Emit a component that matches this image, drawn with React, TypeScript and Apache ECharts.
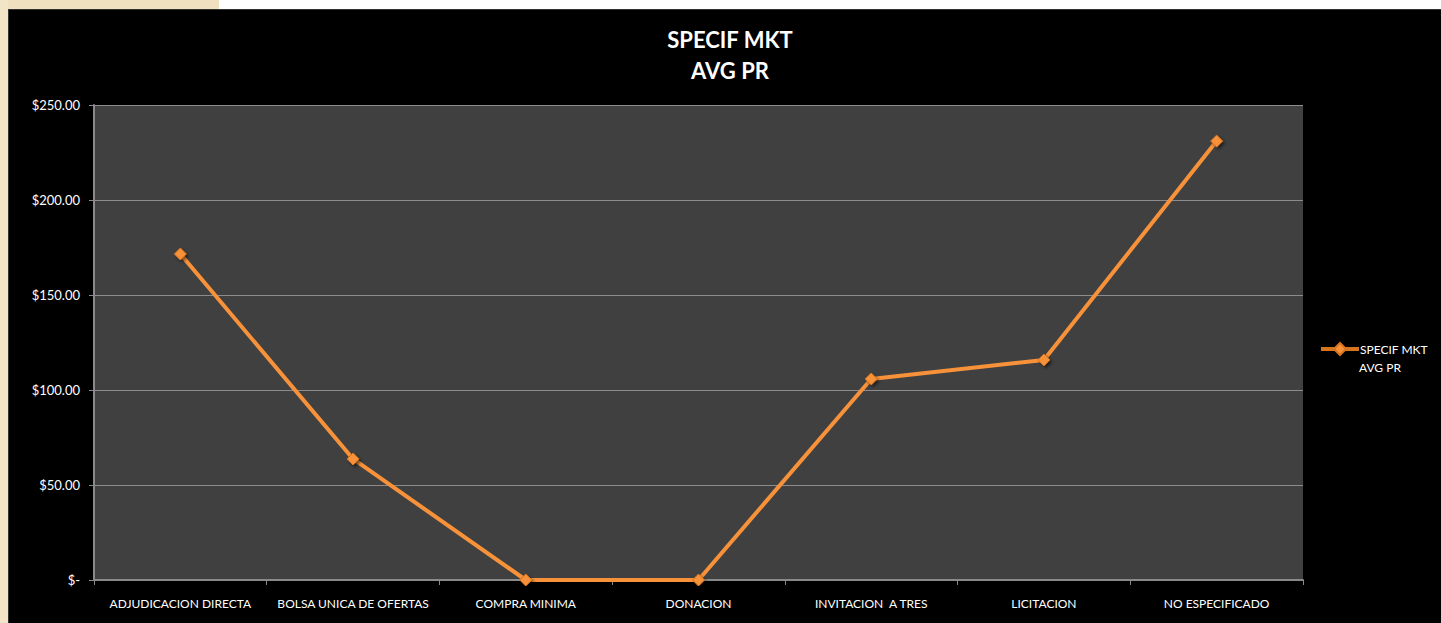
import React, { useEffect, useRef } from "react";
import * as echarts from "echarts";

const categories = [
  "ADJUDICACION DIRECTA",
  "BOLSA UNICA DE OFERTAS",
  "COMPRA MINIMA",
  "DONACION",
  "INVITACION  A TRES",
  "LICITACION",
  "NO ESPECIFICADO",
];
const avgPrice = [171.6, 63.7, 0, 0, 105.8, 115.8, 231.0];
const seriesName = "SPECIF MKT";
const seriesNameLine2 = "AVG PR";
const titleText = "SPECIF MKT\nAVG PR";

const FONT = "Lato, 'Open Sans', 'Noto Sans', sans-serif";
const ORANGE = "#F7923A";

export default function App() {
  const ref = useRef<HTMLDivElement>(null);
  useEffect(() => {
    if (!ref.current) return;
    const chart = echarts.init(ref.current, undefined, { renderer: "svg" });
    chart.setOption({
      animation: false,
      backgroundColor: "#000000",
      title: {
        text: titleText,
        left: 716,
        textAlign: "center",
        top: 9,
        textStyle: {
          color: "#ffffff",
          fontSize: 22,
          fontWeight: "bold",
          fontFamily: FONT,
          lineHeight: 31,
        },
      },
      legend: {
        left: 1307,
        top: 327,
        orient: "vertical",
        itemWidth: 36,
        itemHeight: 12,
        itemGap: 4,
        data: [
          {
            name: seriesName,
            icon: "path://M0,5 L13,5 L18,0 L23,5 L36,5 L36,7 L23,7 L18,12 L13,7 L0,7 Z",
          },
        ],
        textStyle: {
          color: "#ffffff",
          fontSize: 12,
          fontFamily: FONT,
          padding: [0, 0, 0, -3],
        },
      },
      graphic: [
        {
          type: "text",
          left: 1350,
          top: 351,
          style: {
            text: seriesNameLine2,
            fill: "#ffffff",
            fontSize: 12,
            fontFamily: FONT,
          },
        },
      ],
      grid: { left: 85, top: 95, right: 138, bottom: 43, backgroundColor: "#404040", show: true, borderWidth: 0 },
      xAxis: {
        type: "category",
        data: categories,
        boundaryGap: true,
        axisLine: { show: true, lineStyle: { color: "#8a8a8a", width: 2 } },
        axisTick: { show: true, length: 5, inside: false, lineStyle: { color: "#8a8a8a" } },
        axisLabel: {
          color: "#ffffff",
          fontSize: 12,
          fontFamily: FONT,
          margin: 17,
          interval: 0,
        },
      },
      yAxis: {
        type: "value",
        min: 0,
        max: 250,
        interval: 50,
        axisLine: { show: true, lineStyle: { color: "#8a8a8a", width: 2 } },
        axisTick: { show: true, length: 5, lineStyle: { color: "#8a8a8a" } },
        splitLine: { show: true, lineStyle: { color: "#8c8c8c", width: 1 } },
        axisLabel: {
          color: "#ffffff",
          fontSize: 13,
          fontFamily: FONT,
          margin: 14,
          formatter: (v: number) => (v === 0 ? "$-" : "$" + v.toFixed(2)),
        },
      },
      series: [
        {
          name: seriesName,
          type: "line",
          data: avgPrice,
          symbol: "diamond",
          symbolSize: 12,
          lineStyle: { color: ORANGE, width: 4 },
          itemStyle: {
            color: ORANGE,
            borderColor: "#D7741E",
            borderWidth: 1,
            shadowColor: "rgba(0,0,0,0.5)",
            shadowBlur: 3,
            shadowOffsetX: 2,
            shadowOffsetY: 2,
          },
        },
      ],
    });
    return () => chart.dispose();
  }, []);

  return (
    <div style={{ position: "fixed", left: 0, top: 0, width: 1441, height: 623, background: "#ffffff", overflow: "hidden" }}>
      <div style={{ position: "absolute", left: 0, top: 0, width: 219, height: 10, background: "#efe0c0" }} />
      <div style={{ position: "absolute", left: 0, top: 0, width: 8, height: 623, background: "#f2e4c6" }} />
      <div style={{ position: "absolute", left: 8, top: 9, width: 1433, height: 614, background: "#333" }} />
      <div ref={ref} style={{ position: "absolute", left: 9, top: 10, width: 1432, height: 613 }} />
    </div>
  );
}
